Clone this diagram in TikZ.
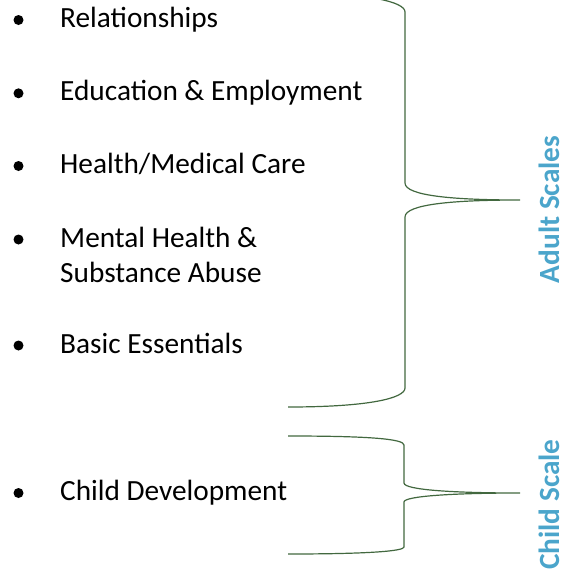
\documentclass[tikz,border=0pt]{standalone}
\usepackage{fontspec}
\setmainfont{Carlito}
\definecolor{bracegreen}{HTML}{42683F}
\definecolor{scaleblue}{HTML}{4BA5CB}
\begin{document}
\begin{tikzpicture}[x=1pt,y=-1pt,
  item/.style={anchor=base west,inner sep=0pt,font=\fontsize{29.3}{35.4}\selectfont,align=left},
  dot/.style={circle,fill=black,inner sep=0pt,minimum size=10pt},
  brace/.style={draw=bracegreen,line width=1.2pt},
  scale label/.style={rotate=90,anchor=base,inner sep=0pt,text=scaleblue,font=\fontsize{29.3}{34}\selectfont\bfseries}]
\useasboundingbox (0,0) rectangle (569,571);

% bulleted list
\node[dot] (b1) at (18.5,20) {};
\node[item] (t1) at (60,27.3) {Relationships};
\node[dot] (b2) at (18.5,93.3) {};
\node[item] (t2) at (60,100.7) {Education \& Employment};
\node[dot] (b3) at (18.5,166) {};
\node[item] (t3) at (60,173.3) {Health/Medical Care};
\node[dot] (b4) at (18.5,239.5) {};
\node[item] (t4) at (60,282.7) {Mental Health \&\\Substance Abuse};
\node[dot] (b5) at (18.5,345.5) {};
\node[item] (t5) at (60,353.3) {Basic Essentials};
\node[dot] (b6) at (18.5,493) {};
\node[item] (t6) at (60,500.7) {Child Development};

% adult brace
\draw[brace] (288,-7) .. controls (370,-7) and (405,2) .. (405,12)
  -- (405,183) .. controls (405,196) and (455,200) .. (520,200)
  .. controls (455,200) and (405,204) .. (405,217)
  -- (405,388) .. controls (405,398) and (370,407) .. (288,407);

% child brace
\draw[brace] (288,436) .. controls (370,436) and (404,439) .. (404,445)
  -- (404,483) .. controls (404,490) and (455,493) .. (520,493)
  .. controls (455,493) and (404,496) .. (404,502)
  -- (404,547) .. controls (404,551) and (370,554) .. (288,554);

% scale labels
\node[scale label] (adult) at (559.5,209.5) {Adult Scales};
\node[scale label] (child) at (559.5,504.5) {Child Scale};
\end{tikzpicture}
\end{document}
